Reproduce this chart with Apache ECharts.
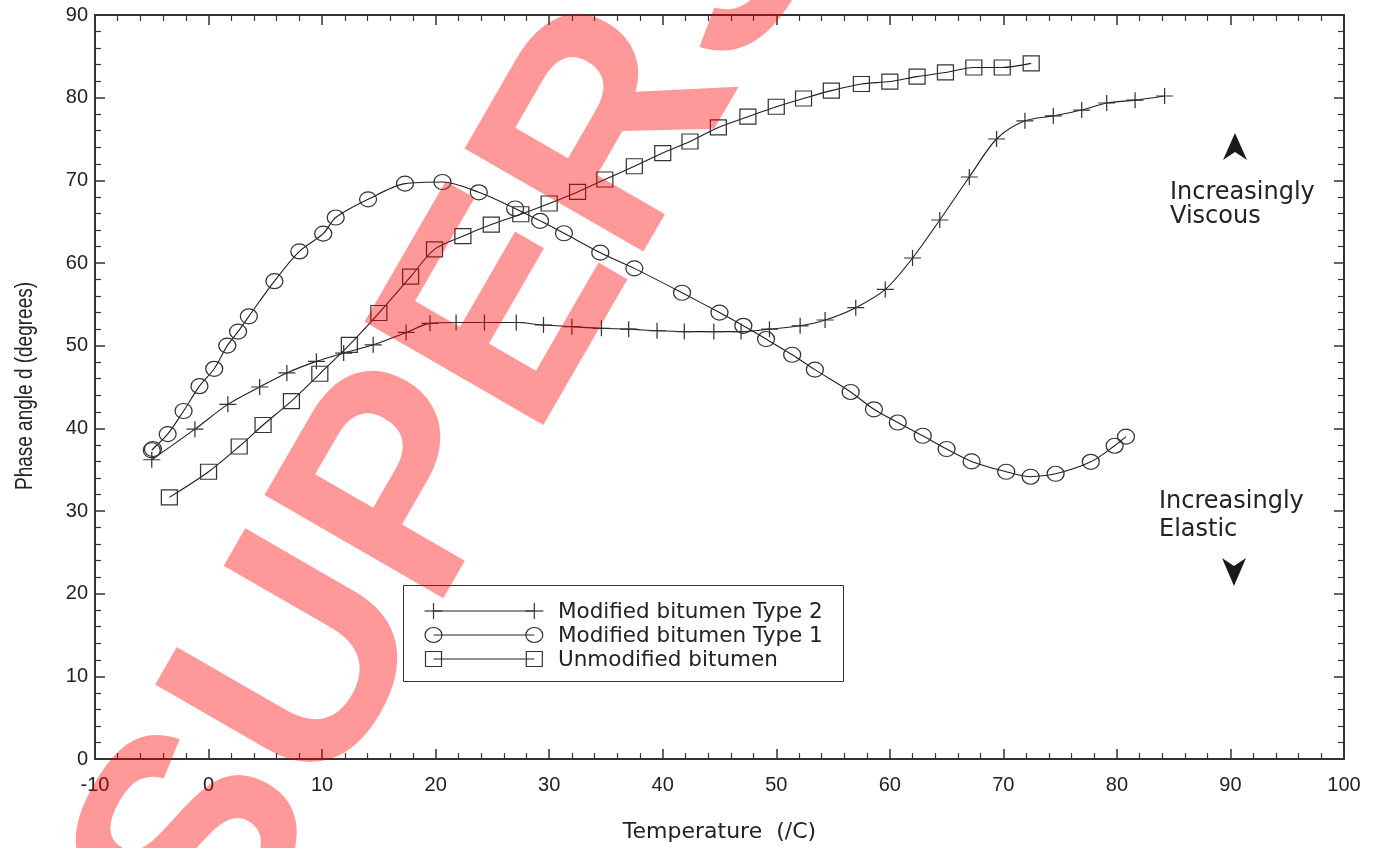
<!DOCTYPE html>
<html>
<head>
<meta charset="utf-8">
<script src="https://cdn.jsdelivr.net/npm/echarts@6/dist/echarts.min.js"></script>
<style>
html,body{margin:0;padding:0;background:#ffffff;}
#chart{width:1380px;height:848px;}
</style>
</head>
<body>
<div id="chart"></div>
<script>
// ---------- data ----------
const seriesNames = ['Modified bitumen Type 2', 'Modified bitumen Type 1', 'Unmodified bitumen'];

const type2Temp  = [-5.0, -1.2, 1.7, 4.5, 6.9, 9.5, 11.9, 14.5, 17.4, 19.5, 21.8, 24.3, 27.1, 29.5, 32.0, 34.6, 37.0, 39.5, 41.9, 44.5, 46.9, 49.4, 52.1, 54.3, 57.0, 59.6, 62.0, 64.4, 67.0, 69.4, 71.9, 74.4, 76.9, 79.1, 81.6, 84.2];
const type2Phase = [36.2, 39.9, 42.9, 45.0, 46.7, 48.1, 49.1, 50.1, 51.6, 52.7, 52.8, 52.8, 52.8, 52.5, 52.3, 52.1, 52.0, 51.8, 51.7, 51.7, 51.7, 52.0, 52.4, 53.1, 54.6, 56.8, 60.6, 65.2, 70.4, 75.0, 77.2, 77.8, 78.5, 79.35, 79.7, 80.2];

const type1Temp  = [-5.0, -4.9, -3.6, -2.2, -0.8, 0.5, 1.65, 2.6, 3.55, 5.8, 8.0, 10.1, 11.2, 14.05, 17.3, 20.6, 23.8, 27.0, 29.2, 31.3, 34.5, 37.5, 41.7, 45.0, 47.1, 49.1, 51.4, 53.4, 56.55, 58.6, 60.7, 62.9, 65.0, 67.2, 70.25, 72.4, 74.6, 77.7, 79.8, 80.8];
const type1Phase = [37.35, 37.5, 39.3, 42.1, 45.1, 47.2, 50.0, 51.7, 53.55, 57.8, 61.4, 63.55, 65.5, 67.7, 69.6, 69.8, 68.55, 66.6, 65.1, 63.6, 61.25, 59.35, 56.4, 54.0, 52.4, 50.8, 48.9, 47.1, 44.4, 42.3, 40.7, 39.1, 37.5, 36.0, 34.75, 34.15, 34.5, 35.95, 37.9, 39.0];

const unmodTemp  = [-3.45, 0.0, 2.7, 4.8, 7.3, 9.8, 12.4, 15.0, 17.8, 19.9, 22.4, 24.9, 27.5, 30.0, 32.5, 34.9, 37.5, 40.0, 42.4, 44.9, 47.5, 50.0, 52.4, 54.85, 57.5, 60.0, 62.4, 64.9, 67.4, 69.9, 72.45];
const unmodPhase = [31.65, 34.75, 37.8, 40.4, 43.3, 46.6, 50.1, 53.95, 58.35, 61.65, 63.25, 64.65, 65.9, 67.2, 68.6, 70.1, 71.7, 73.3, 74.7, 76.4, 77.7, 78.9, 79.9, 80.85, 81.65, 81.95, 82.55, 83.05, 83.65, 83.65, 84.15];

const xMin = -10, xMax = 100, xStep = 10;
const yMin = 0, yMax = 90, yStep = 10;
const xTitle = 'Temperature  (/C)';
const yTitle = 'Phase angle d (degrees)';
const viscousText = ['Increasingly', 'Viscous'];
const elasticText = ['Increasingly', 'Elastic'];
const watermarkText = 'SUPERSEDED';

// ---------- styling ----------
const AX = '#333';
const TXT = '#222';
const plusPath = 'path://M0,8H16M8,0V16';

function pairs(xs, ys) { return xs.map((x, i) => [x, ys[i]]); }

function xAxisDef(pos, withLabels) {
  return {
    type: 'value', min: xMin, max: xMax, interval: xStep, position: pos,
    name: withLabels ? xTitle : '', nameLocation: 'middle', nameGap: 62,
    nameTextStyle: { fontFamily: 'DejaVu Sans', fontSize: 22, color: TXT },
    axisLine: { show: true, onZero: false, lineStyle: { color: AX, width: 2 } },
    axisTick: { show: true, inside: true, length: 10, lineStyle: { color: AX, width: 1.5 } },
    minorTick: { show: true, splitNumber: 5, length: 6, lineStyle: { color: AX, width: 1.2 } },
    splitLine: { show: false }, minorSplitLine: { show: false },
    axisLabel: { show: withLabels, margin: 16, fontFamily: 'Liberation Sans', fontSize: 20, color: TXT }
  };
}
function yAxisDef(pos, withLabels) {
  return {
    type: 'value', min: yMin, max: yMax, interval: yStep, position: pos,
    axisLine: { show: true, onZero: false, lineStyle: { color: AX, width: 2 } },
    axisTick: { show: true, inside: true, length: 10, lineStyle: { color: AX, width: 1.5 } },
    minorTick: { show: true, splitNumber: 5, length: 6, lineStyle: { color: AX, width: 1.2 } },
    splitLine: { show: false }, minorSplitLine: { show: false },
    axisLabel: { show: withLabels, margin: 7, fontFamily: 'Liberation Sans', fontSize: 20, color: TXT }
  };
}

function lineSeries(name, xs, ys, symbol, size) {
  return {
    type: 'line', name: name, xAxisIndex: 0, yAxisIndex: 0,
    data: pairs(xs, ys), symbol: symbol, symbolSize: size, showSymbol: true,
    smooth: 0.3,
    lineStyle: { color: '#1e1e1e', width: 1.1 },
    itemStyle: { color: 'rgba(0,0,0,0)', borderColor: AX, borderWidth: 1.2 },
    emphasis: { disabled: true }
  };
}

// ---------- legend (drawn as graphic, markers at both ends like the original) ----------
const legendRowsY = [611, 635, 659];
const legendX1 = 433.5, legendX2 = 534.3, legendTextX = 558;
function legendMarker(kind, cx, cy) {
  const st = { stroke: AX, lineWidth: 1.2, fill: 'none' };
  if (kind === 'plus') {
    return { type: 'group', children: [
      { type: 'line', shape: { x1: cx - 9, y1: cy, x2: cx + 9, y2: cy }, style: st },
      { type: 'line', shape: { x1: cx, y1: cy - 8, x2: cx, y2: cy + 8 }, style: st }
    ]};
  }
  if (kind === 'circle') {
    return { type: 'ellipse', shape: { cx: cx, cy: cy, rx: 8.5, ry: 7.5 }, style: st };
  }
  return { type: 'rect', shape: { x: cx - 8, y: cy - 7.5, width: 16, height: 15 }, style: st };
}
const legendKinds = ['plus', 'circle', 'rect'];
const legendChildren = [
  { type: 'rect', shape: { x: 403.5, y: 585.5, width: 440, height: 96 }, style: { fill: '#fff', stroke: '#333', lineWidth: 1 } }
];
seriesNames.forEach((nm, i) => {
  const y = legendRowsY[i];
  legendChildren.push({ type: 'line', shape: { x1: legendX1, y1: y, x2: legendX2, y2: y }, style: { stroke: '#222', lineWidth: 1 } });
  legendChildren.push(legendMarker(legendKinds[i], legendX1, y));
  legendChildren.push(legendMarker(legendKinds[i], legendX2, y));
  legendChildren.push({ type: 'text', x: legendTextX, y: y + 1, style: { text: nm, fontFamily: 'DejaVu Sans', fontSize: 21.5, fill: TXT, align: 'left', verticalAlign: 'middle' } });
});

function annot(x, y, t) {
  return { type: 'text', x: x, y: y, style: { text: t, fontFamily: 'DejaVu Sans', fontSize: 24, fill: TXT, align: 'left', verticalAlign: 'middle' } };
}

const chart = echarts.init(document.getElementById('chart'), null, { renderer: 'canvas' });
chart.setOption({
  animation: false,
  backgroundColor: '#ffffff',
  grid: { left: 95, right: 36, top: 15, bottom: 89, show: false },
  xAxis: [xAxisDef('bottom', true), xAxisDef('top', false)],
  yAxis: [yAxisDef('left', true), yAxisDef('right', false)],
  series: [
    lineSeries(seriesNames[0], type2Temp, type2Phase, plusPath, [17, 16]),
    lineSeries(seriesNames[1], type1Temp, type1Phase, 'circle', [17, 15]),
    lineSeries(seriesNames[2], unmodTemp, unmodPhase, 'rect', [16, 15])
  ],
  graphic: [
    { type: 'group', z: 50, children: legendChildren },
    { type: 'text', x: 25, y: 386, rotation: Math.PI / 2, scaleY: 1.3,
      style: { text: yTitle, fontFamily: 'Liberation Sans', fontSize: 19, fill: TXT, align: 'center', verticalAlign: 'middle' } },
    annot(1170, 193, viscousText[0]),
    annot(1170, 217, viscousText[1]),
    annot(1159, 502, elasticText[0]),
    annot(1159, 530, elasticText[1]),
    { type: 'polygon', z: 50, shape: { points: [[1235, 133], [1247, 160], [1235, 152], [1223, 160]] }, style: { fill: '#1a1a1a' } },
    { type: 'polygon', z: 50, shape: { points: [[1234, 586], [1246, 558], [1234, 566], [1222, 558]] }, style: { fill: '#1a1a1a' } },
    { type: 'text', z: 200, x: 670, y: 40, rotation: Math.PI / 3,
      style: { text: watermarkText, fontFamily: 'Liberation Sans', fontWeight: 'bold', fontSize: 300, fill: 'rgba(255,0,0,0.4)', align: 'center', verticalAlign: 'middle' } }
  ]
});
</script>
</body>
</html>
